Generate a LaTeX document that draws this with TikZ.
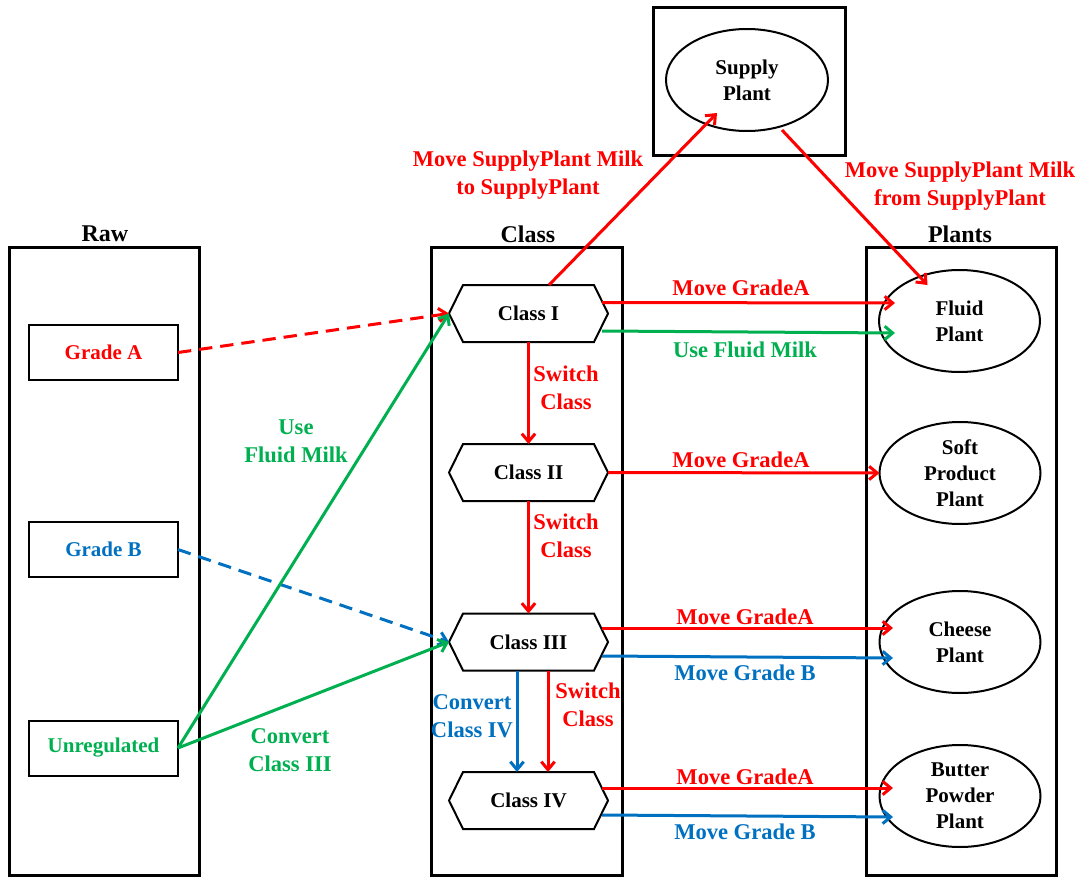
\documentclass[tikz,border=0pt]{standalone}
\usepackage{fontspec}
\setmainfont{Liberation Serif}
\usetikzlibrary{shapes.geometric,arrows.meta,calc}
\definecolor{cred}{RGB}{255,0,0}
\definecolor{cgreen}{RGB}{0,176,80}
\definecolor{cblue}{RGB}{0,112,192}
\newcommand\hexdraw[1]{%
  \draw[line width=1.5pt,line join=miter] ($(#1.north west)+(14,0)$) -- ($(#1.north east)+(-14,0)$) -- (#1.east)
    -- ($(#1.south east)+(-14,0)$) -- ($(#1.south west)+(14,0)$) -- (#1.west) -- cycle;}
\begin{document}
\begin{tikzpicture}[x=0.75pt,y=-0.75pt,
  outerbox/.style={draw,line width=2.25pt,minimum width=143pt,minimum height=471pt,inner sep=0,outer sep=0},
  title/.style={font=\bfseries\fontsize{18}{21}\selectfont},
  rawbox/.style={draw,line width=1.5pt,minimum width=111.75pt,minimum height=41.25pt,inner sep=0,outer sep=0,font=\bfseries\fontsize{15.75}{19}\selectfont},
  hexbox/.style={minimum width=119.25pt,minimum height=42.75pt,inner sep=0,outer sep=0,font=\bfseries\fontsize{15.75}{19}\selectfont},
  plant/.style={draw,ellipse,line width=1.5pt,minimum width=120.75pt,minimum height=76.5pt,inner sep=0,outer sep=0,align=center,font=\bfseries\fontsize{15.75}{19.5}\selectfont},
  lbl/.style={align=center,font=\bfseries\fontsize{16.9}{21}\selectfont,inner sep=0},
  arr/.style={line width=2.25pt,-{Straight Barb[length=6pt,width=10pt]}},
  dsh/.style={line width=2.25pt,dash pattern=on 10pt off 6pt,-{Straight Barb[length=6pt,width=10pt]}},
]
\useasboundingbox (0,0) rectangle (1083,878);
% outer boxes
\node[outerbox] (raw) at (104.5,561) {};
\node[outerbox] (cls) at (527,561) {};
\node[outerbox] (pls) at (961.5,561) {};
\node[draw,line width=2.25pt,minimum width=144pt,minimum height=111pt,inner sep=0,outer sep=0] (spbox) at (749,81) {};
\node[title] (trw) at (105,234) {Raw};
\node[title] (tcl) at (528,234) {Class};
\node[title] (tpl) at (960,234) {Plants};
% supply
\node[plant,minimum width=121.5pt] (sp) at (747,80) {Supply\\Plant};
% raw boxes
\node[rawbox,text=cred] (ga) at (103.5,352.5) {Grade A};
\node[rawbox,text=cblue] (gb) at (103.5,549.5) {Grade B};
\node[rawbox,text=cgreen] (un) at (103.5,748) {Unregulated};
% classes
\node[hexbox] (c1) at (528.5,313.5) {Class I}; \hexdraw{c1}
\node[hexbox] (c2) at (528.5,472.5) {Class II}; \hexdraw{c2}
\node[hexbox] (c3) at (528.5,642) {Class III}; \hexdraw{c3}
\node[hexbox] (c4) at (528.5,800.5) {Class IV}; \hexdraw{c4}
% plants
\node[plant] (fl) at (959.5,321) {Fluid\\Plant};
\node[plant] (so) at (960,473) {Soft\\Product\\Plant};
\node[plant] (ch) at (960,642) {Cheese\\Plant};
\node[plant] (bu) at (960,796) {Butter\\Powder\\Plant};
% raw arrows
\draw[dsh,cred] (ga.east) -- (c1.west);
\draw[dsh,cblue] (gb.east) -- (c3.west);
\draw[arr,cgreen] (un.east) -- (c1.west);
\draw[arr,cgreen] (un.east) -- (c3.west);
% supply arrows
\draw[arr,cred] ($(c1.north)+(20.5,0)$) -- ($(sp.center)+(-30,33)$);
\draw[arr,cred] ($(sp.center)+(35,50)$) -- ($(fl.center)+(-32,-36)$);
% class to plants
\draw[arr,cred] ($(c1.east)+(-6,-11)$) -- ($(fl.center)+(-64.5,-18)$);
\draw[arr,cgreen] ($(c1.east)+(-6,17.5)$) -- ($(fl.center)+(-64.5,12)$);
\draw[arr,cred] (c2.east) -- (so.west);
\draw[arr,cred] ($(c3.east)+(-6,-14)$) -- ($(ch.center)+(-67,-14)$);
\draw[arr,cblue] ($(c3.east)+(-6,14)$) -- ($(ch.center)+(-67,16)$);
\draw[arr,cred] ($(c4.east)+(-6,-12.5)$) -- ($(bu.center)+(-67,-8)$);
\draw[arr,cblue] ($(c4.east)+(-6,14.5)$) -- ($(bu.center)+(-67,21)$);
% class to class
\draw[arr,cred] (c1.south) -- (c2.north);
\draw[arr,cred] (c2.south) -- (c3.north);
\draw[arr,cblue] ($(c3.south)+(-11.5,0)$) -- ($(c4.north)+(-11.5,0)$);
\draw[arr,cred] ($(c3.south)+(19.5,0)$) -- ($(c4.north)+(19.5,0)$);
% labels
\node[lbl,text=cred] (l1) at (528,175) {Move SupplyPlant Milk\\to SupplyPlant};
\node[lbl,text=cred] (l2) at (960,186) {Move SupplyPlant Milk\\from SupplyPlant};
\node[lbl,text=cred] (l3) at (741,288) {Move GradeA};
\node[lbl,text=cgreen] (l4) at (745,350) {Use Fluid Milk};
\node[lbl,text=cred] (l5) at (566,388) {Switch\\Class};
\node[lbl,text=cred] (l6) at (741,460) {Move GradeA};
\node[lbl,text=cred] (l7) at (566,536) {Switch\\Class};
\node[lbl,text=cred] (l8) at (745,617) {Move GradeA};
\node[lbl,text=cblue] (l9) at (745,673) {Move Grade B};
\node[lbl,text=cblue] (l10) at (472,716) {Convert\\Class IV};
\node[lbl,text=cred] (l11) at (588,705) {Switch\\Class};
\node[lbl,text=cred] (l12) at (745,777) {Move GradeA};
\node[lbl,text=cblue] (l13) at (745,832) {Move Grade B};
\node[lbl,text=cgreen] (l14) at (296,441) {Use\\Fluid Milk};
\node[lbl,text=cgreen] (l15) at (290,750) {Convert\\Class III};
\end{tikzpicture}
\end{document}
